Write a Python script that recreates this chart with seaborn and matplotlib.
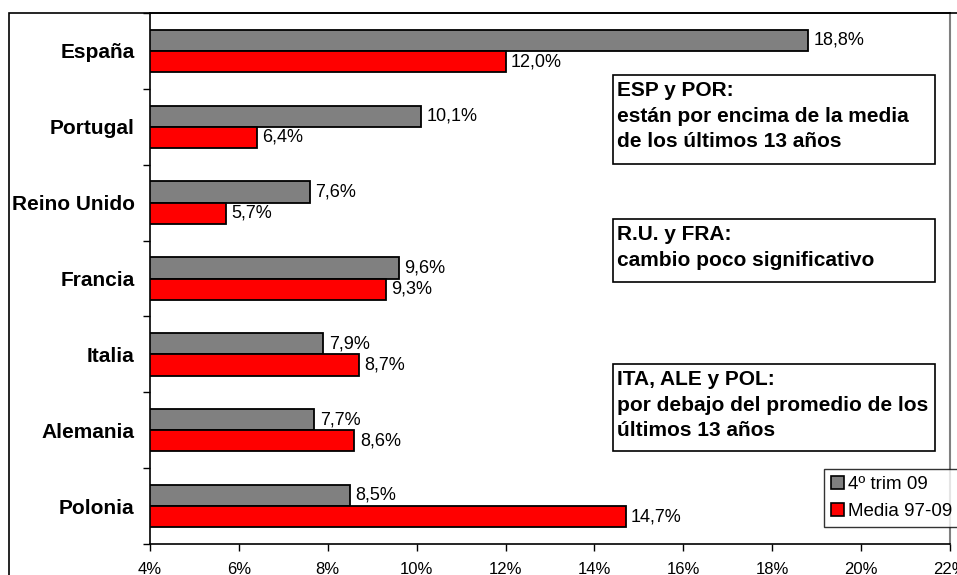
import matplotlib
matplotlib.use("Agg")
import matplotlib.pyplot as plt
import seaborn as sns
import pandas as pd
import numpy as np
from matplotlib.patches import Rectangle, Patch
from matplotlib.ticker import FixedLocator

sns.set_theme(style="white")
plt.rcParams['font.family'] = ['Liberation Sans', 'DejaVu Sans']
plt.rcParams['text.color'] = 'black'
plt.rcParams['xtick.color'] = 'black'
plt.rcParams['ytick.color'] = 'black'
plt.rcParams['axes.labelcolor'] = 'black'

categories = ["España", "Portugal", "Reino Unido", "Francia", "Italia", "Alemania", "Polonia"]
series_names = ["4º trim 09", "Media 97-09"]
trim09 = [18.8, 10.1, 7.6, 9.6, 7.9, 7.7, 8.5]
media = [12.0, 6.4, 5.7, 9.3, 8.7, 8.6, 14.7]
colors = ["#808080", "#ff0000"]
xticks = [4, 6, 8, 10, 12, 14, 16, 18, 20, 22]

df = pd.DataFrame({
    "pais": categories * 2,
    "serie": [series_names[0]] * len(categories) + [series_names[1]] * len(categories),
    "valor": trim09 + media,
})

W, H = 957, 575
fig = plt.figure(figsize=(W / 100, H / 100), dpi=100)
ax = fig.add_axes([150 / W, 1 - 544 / H, (950 - 150) / W, (544 - 13) / H])

sns.barplot(data=df, y="pais", x="valor", hue="serie", orient="h",
            palette=colors, saturation=1, width=0.56, edgecolor="black", linewidth=1.3,
            ax=ax, legend=False, order=categories, hue_order=series_names)

ax.set_xlim(4, 22)
ax.set_ylim(len(categories) - 0.5, -0.5)
ax.set_xticks(xticks)
ax.set_xticklabels([f"{t}%" for t in xticks], fontsize=12, color="black")
ax.set_xlabel("")
ax.set_ylabel("")
ax.set_yticks(range(len(categories)))
ax.set_yticklabels(categories, fontsize=15, fontweight="bold", color="black")
ax.yaxis.set_minor_locator(FixedLocator(np.arange(-0.5, len(categories), 1.0)))
ax.tick_params(axis="y", which="major", length=0, pad=11)
ax.tick_params(axis="y", which="minor", length=5, width=1, color="black", direction="out", left=True)
ax.tick_params(axis="x", which="major", length=5, width=1, color="black", direction="out", bottom=True, pad=8)

for s in ["left", "bottom", "top"]:
    ax.spines[s].set_color("black")
    ax.spines[s].set_linewidth(1.2)
ax.spines["right"].set_color("#808080")
ax.spines["right"].set_linewidth(1.5)

# value labels
for cont in ax.containers:
    labels = [f"{v:.1f}%".replace(".", ",") for v in cont.datavalues]
    ax.bar_label(cont, labels=labels, padding=4, fontsize=13, color="black")

# outer frame
fig.patches.append(Rectangle((9 / W, -0.05), 1.1, 1 - 13 / H + 0.05, transform=fig.transFigure,
                             fill=False, edgecolor="black", linewidth=1.2, clip_on=False))

# annotation boxes
boxes = [
    (613, 75, 935, 164, "ESP y POR:\nestán por encima de la media\nde los últimos 13 años"),
    (613, 219, 935, 282, "R.U. y FRA:\ncambio poco significativo"),
    (613, 364, 935, 451, "ITA, ALE y POL:\npor debajo del promedio de los\núltimos 13 años"),
]
for x0, y0, x1, y1, txt in boxes:
    fig.patches.append(Rectangle((x0 / W, 1 - y1 / H), (x1 - x0) / W, (y1 - y0) / H,
                                 transform=fig.transFigure, facecolor="white",
                                 edgecolor="black", linewidth=1.2, zorder=5))
    fig.text((x0 + 4) / W, 1 - (y0 + 6) / H, txt, ha="left", va="top", fontsize=15,
             fontweight="bold", linespacing=1.45, zorder=6, color="black")

# legend
handles = [Patch(facecolor=c, edgecolor="black", linewidth=1.2) for c in colors]
leg = fig.legend(handles, series_names, loc="upper left",
                 bbox_to_anchor=(824 / W, 1 - 469 / H), bbox_transform=fig.transFigure,
                 fontsize=13.5, frameon=True, fancybox=False, shadow=False,
                 handlelength=0.7, handleheight=0.7, handletextpad=0.25,
                 borderpad=0.35, labelspacing=0.55, borderaxespad=0)
leg.get_frame().set_edgecolor("black")
leg.get_frame().set_linewidth(1.0)
for t in leg.get_texts():
    t.set_color("black")

fig.savefig("out.png", dpi=100)
